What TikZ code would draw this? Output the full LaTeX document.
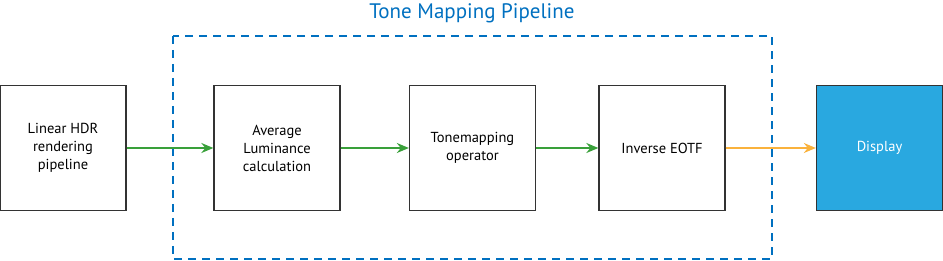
\documentclass[tikz,border=0pt]{standalone}
\usepackage{fontspec}
\setmainfont{PT Sans}
\usetikzlibrary{arrows.meta}
\definecolor{PipeBlue}{RGB}{0,112,192}
\definecolor{DispBlue}{RGB}{41,168,224}
\definecolor{FlowGreen}{RGB}{57,160,58}
\definecolor{OutOrange}{RGB}{250,178,60}
\tikzset{
  blk/.style={draw=black!80, line width=1.3pt, fill=white, minimum width=126pt, minimum height=125pt,
    inner sep=2pt, align=center, font=\fontsize{14.5}{18}\selectfont},
  dispblk/.style={blk, fill=DispBlue, text=white},
  grarr/.style={-{Stealth[length=12pt, width=10pt]}, line width=1.6pt, FlowGreen},
  orarr/.style={-{Stealth[length=12pt, width=10pt]}, line width=1.6pt, OutOrange},
  pipebox/.style={draw=PipeBlue, line width=2pt, dash pattern=on 8pt off 6pt},
}
\begin{document}
\begin{tikzpicture}[x=1pt, y=-1pt]
  \useasboundingbox (0,0) rectangle (943,261);
  % pipeline frame
  \draw[pipebox] (173,36) rectangle (772,259);
  \node[text=PipeBlue, font=\fontsize{21}{24}\selectfont] (title) at (472,13) {Tone Mapping Pipeline};
  % stages
  \node[blk] (hdr) at (63,148) {Linear HDR\\rendering\\pipeline};
  \node[blk] (avg) at (277,148) {Average\\Luminance\\calculation};
  \node[blk] (tmo) at (472.5,148) {Tonemapping\\operator};
  \node[blk] (eotf) at (662,148) {Inverse EOTF};
  \node[dispblk] (disp) at (879.5,148) {Display};
  % flow
  \draw[grarr] (hdr) -- (avg);
  \draw[grarr] (avg) -- (tmo);
  \draw[grarr] (tmo) -- (eotf);
  \draw[orarr] (eotf) -- (disp);
\end{tikzpicture}
\end{document}
